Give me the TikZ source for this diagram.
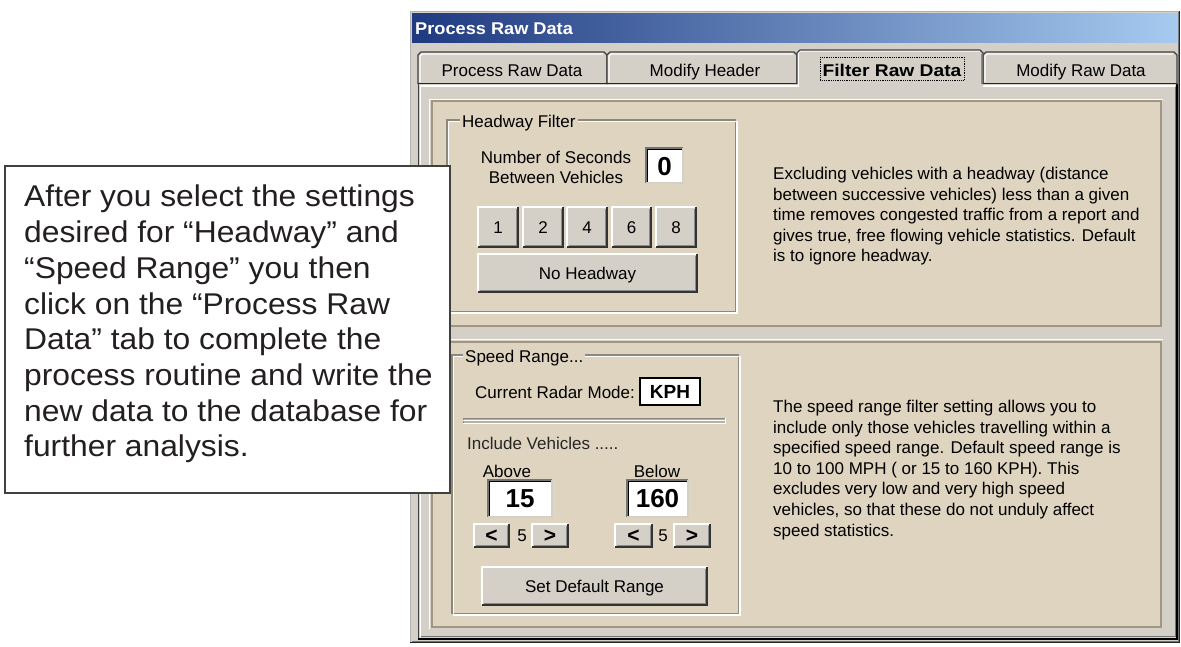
\documentclass[tikz,border=0pt]{standalone}
\usepackage{fontspec}
\usepackage{graphicx}
\setmainfont{Liberation Sans}
\newfontfamily\calloutfont[FakeStretch=1.06]{Liberation Sans}
\definecolor{wingray}{RGB}{212,208,200}
\definecolor{paneltan}{RGB}{222,212,192}
\definecolor{tanedge}{RGB}{160,150,130}
\definecolor{etch}{RGB}{140,136,128}
\definecolor{titleL}{RGB}{31,58,128}
\definecolor{titleR}{RGB}{166,202,240}
\definecolor{ink}{RGB}{35,31,32}
\tikzset{
  ui/.style={font={\fontsize{17}{20.6}\selectfont}, inner sep=0pt, text=black},
  uibold/.style={font={\bfseries\fontsize{17}{20.6}\selectfont}, inner sep=0pt, text=black},
  fieldtext/.style={font={\bfseries\fontsize{26}{30}\selectfont}, inner sep=0pt, text=black},
  arrowtext/.style={font={\bfseries\fontsize{21}{24}\selectfont}, inner sep=0pt, text=black},
  calloutbox/.style={draw=black!75, line width=1.3pt, fill=white},
  callouttext/.style={font={\calloutfont\fontsize{30}{35.7}\selectfont}, inner sep=0pt, text=ink, align=left, anchor=north west},
}
% name, x1, y1, x2, y2, text
\newcommand\uibtn[6]{%
  \fill[wingray] (#2,#3) rectangle (#4,#5);
  \draw[white, line width=1.5pt] (#2,#5) -- (#2,#3) -- (#4,#3);
  \draw[black!80, line width=1.5pt] (#2,#5) -- (#4,#5) -- (#4,#3);
  \draw[black!45, line width=1pt] (#2+1.5,#5-1.5) -- (#4-1.5,#5-1.5) -- (#4-1.5,#3+1.5);
  \node[ui, anchor=base] (#1) at ({(#2+#4)/2},{(#3+#5)/2+6.5}) {#6};
}
\newcommand\uiarrowbtn[6]{%
  \fill[wingray] (#2,#3) rectangle (#4,#5);
  \draw[white, line width=1.5pt] (#2,#5) -- (#2,#3) -- (#4,#3);
  \draw[black!80, line width=1.5pt] (#2,#5) -- (#4,#5) -- (#4,#3);
  \draw[black!45, line width=1pt] (#2+1.5,#5-1.5) -- (#4-1.5,#5-1.5) -- (#4-1.5,#3+1.5);
  \node[arrowtext, anchor=base] (#1) at ({(#2+#4)/2},{(#3+#5)/2+7}) {#6};
}
% name, x1, y1, x2, y2, baseline offset, style, text
\newcommand\uifield[8]{%
  \fill[white] (#2,#3) rectangle (#4,#5);
  \draw[black!55, line width=1.5pt] (#2,#5) -- (#2,#3) -- (#4,#3);
  \draw[black, line width=1pt] (#2+1.5,#5-1.5) -- (#2+1.5,#3+1.5) -- (#4-1.5,#3+1.5);
  \draw[wingray, line width=1.5pt] (#2,#5) -- (#4,#5) -- (#4,#3);
  \node[#7, anchor=base] (#1) at ({(#2+#4)/2},{(#3+#5)/2+#6}) {#8};
}
\newcommand\groupframe[4]{%
  \draw[etch, line width=1.2pt] (#1,#2) rectangle (#3-1.5,#4-1.5);
  \draw[white, line width=1.2pt] (#1+1.5,#2+1.5) rectangle (#3,#4);
}
\begin{document}
\begin{tikzpicture}[x=1pt,y=-1pt]
\useasboundingbox (0,0) rectangle (1181,646);
\fill[white] (0,0) rectangle (1181,646);

% window frame
\fill[wingray] (410,11) rectangle (1180,643);
\draw[black!30, line width=1pt] (410.5,643) -- (410.5,11.5) -- (1180,11.5);
\draw[black!85, line width=1.2pt] (410,642.5) -- (1179.5,642.5) -- (1179.5,11);
\draw[black!55, line width=1pt] (412,641) -- (1178,641) -- (1178,12);

% title bar
\shade[left color=titleL, right color=titleR] (412,13) rectangle (1178,42);
\node[uibold, text=white, anchor=base west] (title) at (415,34) {\scalebox{1.07}[1]{Process Raw Data}};

% tab panel
\fill[wingray] (418,84) rectangle (1177,640);
\draw[black!75, line width=1.2pt] (418.5,84) -- (418.5,640);
\draw[white, line width=1.5pt] (420.5,86) -- (420.5,637);
\draw[black, line width=1.2pt] (418,639) -- (1177,639) -- (1177,84);
\draw[black!55, line width=1pt] (421,636.8) -- (1175,636.8) -- (1175,87);

% unselected tabs
\foreach \a/\b in {418/607, 607/797, 983/1177} {
  \fill[wingray] (\a,84) -- (\a,55) -- (\a+3,52) -- (\b-3,52) -- (\b,55) -- (\b,84) -- cycle;
  \draw[white, line width=1.2pt] (\a+2,82) -- (\a+2,56) -- (\a+4,54) -- (\b-4,54);
  \draw[black!75, line width=1.2pt] (\a,84) -- (\a,55) -- (\a+3,52) -- (\b-3,52) -- (\b,55) -- (\b,84);
}
\draw[black!85, line width=1.2pt] (418,83.5) -- (797,83.5);
\draw[black!85, line width=1.2pt] (983,83.5) -- (1177,83.5);
\draw[white, line width=2pt] (420,86) -- (797,86);
\draw[white, line width=2pt] (983,86) -- (1175,86);
% selected tab
\fill[wingray] (797,88) -- (797,53) -- (800,50) -- (980,50) -- (983,53) -- (983,88) -- cycle;
\draw[white, line width=1.5pt] (798,87) -- (798,53) -- (800.5,50.8) -- (980,50.8);
\draw[black!75, line width=1.2pt] (797,84) -- (797,53) -- (800,50) -- (980,50) -- (983,53) -- (983,84);
\draw[black!45, line width=1pt] (981.5,54) -- (981.5,84);

\node[ui, anchor=base] (tab1) at (512,76) {Process Raw Data};
\node[ui, anchor=base] (tab2) at (705,76) {Modify Header};
\node[uibold, anchor=base] (tab3) at (892,76) {\scalebox{1.13}[1]{Filter Raw Data}};
\node[ui, anchor=base] (tab4) at (1081,76) {Modify Raw Data};
\draw[black, densely dotted, line width=0.8pt] (820,57) rectangle (964,80);

% tan panels
\fill[paneltan] (432,101) rectangle (1161,326);
\draw[tanedge, line width=1.5pt] (432,101) rectangle (1161,326);
\draw[white, line width=1pt] (429.5,327.5) -- (429.5,99) -- (1163,99);
\fill[paneltan] (432,342) rectangle (1161,627);
\draw[tanedge, line width=1.5pt] (432,342) rectangle (1161,627);
\draw[white, line width=1pt] (429.5,629) -- (429.5,339.5) -- (1163,339.5);

% Headway Filter group
\groupframe{447}{120}{737}{313}
\node[ui, anchor=base west, fill=paneltan, inner xsep=2pt, inner ysep=1pt] (hwlabel) at (460,127) {Headway Filter};
\node[ui, anchor=base] (nsec1) at (556,163) {Number of Seconds};
\node[ui, anchor=base] (nsec2) at (556,183) {Between Vehicles};
\uifield{hwfield}{646}{148}{683}{183}{9.5}{fieldtext}{0}
\uibtn{b1}{478}{207}{518}{247}{1}
\uibtn{b2}{523}{207}{563}{247}{2}
\uibtn{b4}{567}{207}{607}{247}{4}
\uibtn{b6}{612}{207}{651}{247}{6}
\uibtn{b8}{656}{207}{696}{247}{8}
\uibtn{nohw}{478}{254}{697}{292}{No Headway}

\node[ui, anchor=north west, align=left] (hwdesc) at (773,167) {Excluding vehicles with a headway (distance\\between successive vehicles) less than a given\\time removes congested traffic from a report and\\gives true, free flowing vehicle statistics. Default\\is to ignore headway.};

% Speed Range group
\groupframe{452}{355}{740}{615}
\node[ui, anchor=base west, fill=paneltan, inner xsep=2pt, inner ysep=1pt] (srlabel) at (463,362) {Speed Range...};
\node[ui, anchor=base west] (radar) at (475,398) {Current Radar Mode:};
\fill[white] (640,378) rectangle (700,405);
\draw[black, line width=1.3pt] (640,378) rectangle (700,405);
\node[font={\bfseries\fontsize{19}{22}\selectfont}, inner sep=0pt, anchor=base] (kph) at (670,398.5) {KPH};
% separator groove
\fill[wingray!85!black] (463,418) rectangle (725,423);
\draw[etch, line width=1pt] (463,423) -- (463,418) -- (725,418);
\draw[white, line width=1.2pt] (463,420.5) -- (725,420.5);
\draw[white, line width=1pt] (463,423.5) -- (725.5,423.5) -- (725.5,418);
\node[ui, anchor=base west, text=black!85] (incl) at (467,449) {Include Vehicles .....};
\node[ui, anchor=base] (above) at (507,477) {Above};
\node[ui, anchor=base] (below) at (657,477) {Below};
\uifield{abovefield}{488}{480}{552}{517}{9}{fieldtext}{15}
\uifield{belowfield}{627}{480}{688}{517}{9}{fieldtext}{160}
\uiarrowbtn{aless}{474}{524}{509}{547}{<}
\node[ui, anchor=base] (astep) at (522,541) {5};
\uiarrowbtn{amore}{532}{524}{568}{547}{>}
\uiarrowbtn{bless}{615}{524}{652}{547}{<}
\node[ui, anchor=base] (bstep) at (663,541) {5};
\uiarrowbtn{bmore}{674}{524}{710}{547}{>}
\uibtn{setdef}{482}{567}{707}{605}{Set Default Range}

\node[ui, anchor=north west, align=left] (srdesc) at (773,400) {The speed range filter setting allows you to\\include only those vehicles travelling within a\\specified speed range. Default speed range is\\10 to 100 MPH ( or 15 to 160 KPH). This\\excludes very low and very high speed\\vehicles, so that these do not unduly affect\\speed statistics.};

% callout
\draw[calloutbox] (5,166) rectangle (450,493);
\node[callouttext] (callout) at (24,185) {After you select the settings\\desired for “Headway” and\\“Speed Range” you then\\click on the “Process Raw\\Data” tab to complete the\\process routine and write the\\new data to the database for\\further analysis.};
\end{tikzpicture}
\end{document}
